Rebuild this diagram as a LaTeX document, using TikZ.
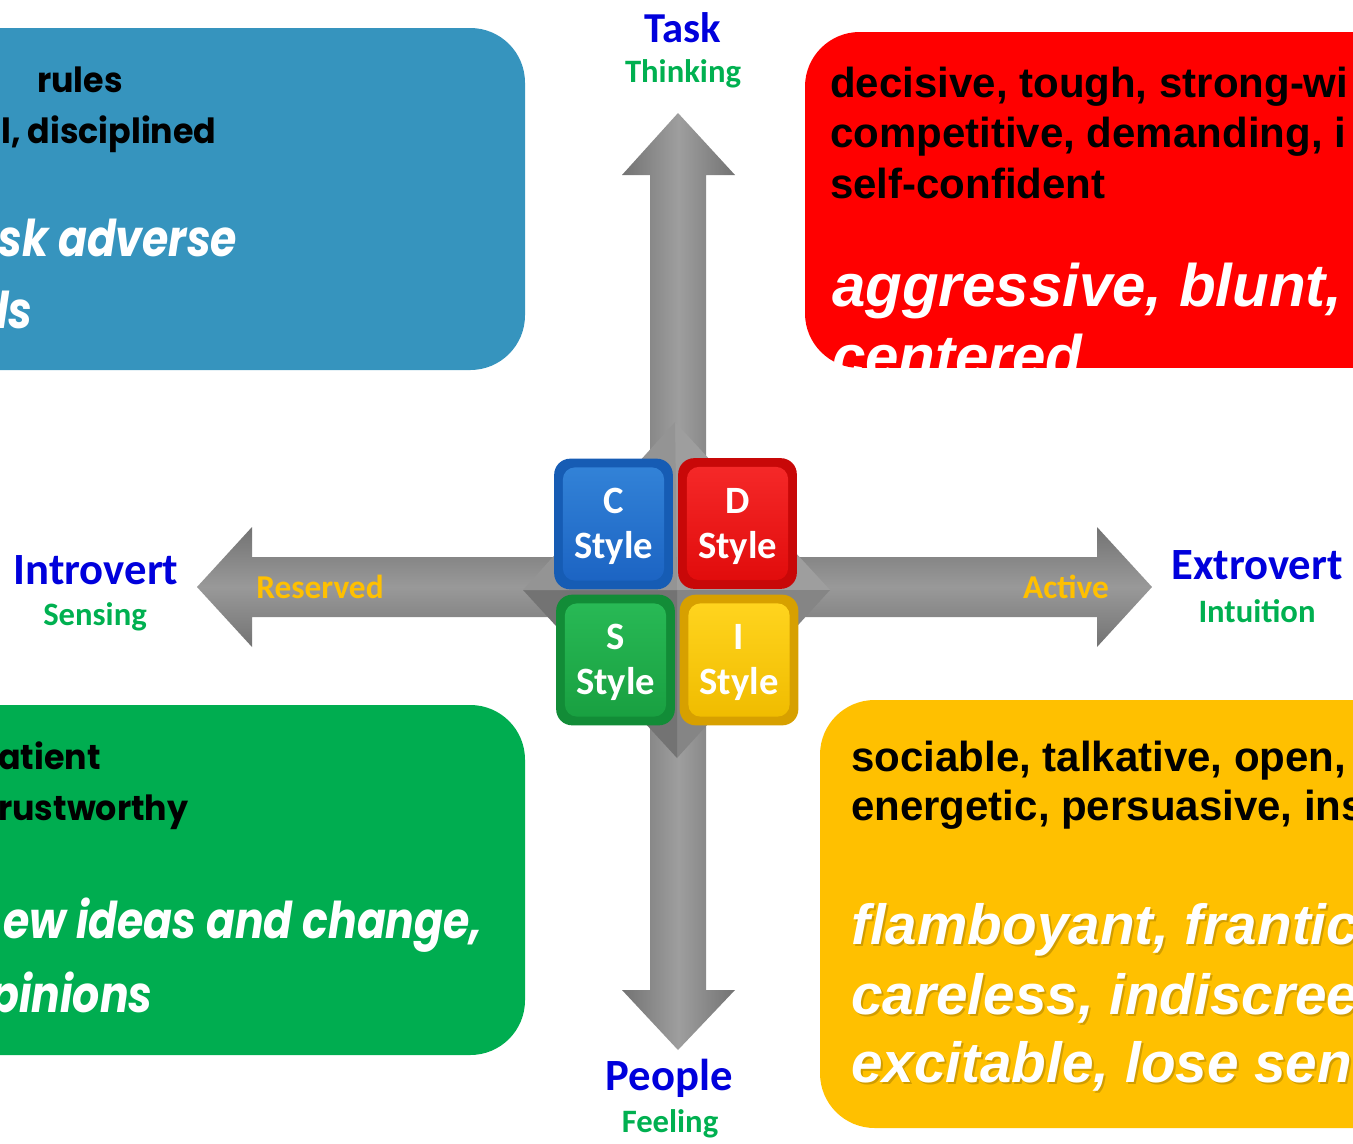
\documentclass[tikz,border=0pt]{standalone}
\usepackage{fontspec}
\setmainfont{Carlito}
\newfontfamily\arialf{Liberation Sans}
\newfontfamily\futf{Poppins}[FakeStretch=0.96]
\newfontfamily\futw{Poppins}[FakeStretch=0.84]
\definecolor{bluebox}{RGB}{54,148,190}
\definecolor{redbox}{RGB}{255,0,0}
\definecolor{greenbox}{RGB}{0,173,80}
\definecolor{yellowbox}{RGB}{255,192,0}
\definecolor{ttlblue}{RGB}{0,0,220}
\definecolor{subgreen}{RGB}{0,176,80}
\definecolor{amber}{RGB}{255,192,0}
\definecolor{cOut}{RGB}{22,92,180}\definecolor{cTop}{RGB}{50,130,215}\definecolor{cBot}{RGB}{28,100,195}
\definecolor{dOut}{RGB}{200,8,8}\definecolor{dTop}{RGB}{245,40,40}\definecolor{dBot}{RGB}{225,12,12}
\definecolor{sOut}{RGB}{18,140,55}\definecolor{sTop}{RGB}{40,185,85}\definecolor{sBot}{RGB}{25,160,65}
\definecolor{iOut}{RGB}{215,160,0}\definecolor{iTop}{RGB}{255,212,30}\definecolor{iBot}{RGB}{240,188,0}
\tikzset{
  qbox/.style={rounded corners=41pt},
  ablk/.style={anchor=base west,inner sep=0pt,text=black,font=\arialf\bfseries\fontsize{31.5}{36}\selectfont},
  awht/.style={anchor=base west,inner sep=0pt,text=white,font=\arialf\bfseries\itshape\fontsize{45}{52}\selectfont},
  ywht/.style={anchor=base west,inner sep=0pt,text=white,font=\arialf\bfseries\itshape\fontsize{42.5}{50}\selectfont},
  yshd/.style={anchor=base west,inner sep=0pt,text=black,opacity=.18,font=\arialf\bfseries\itshape\fontsize{42.5}{50}\selectfont},
  fblk/.style={anchor=base west,inner sep=0pt,text=black,font=\futf\bfseries\fontsize{26}{30}\selectfont},
  fwht/.style={anchor=base west,inner sep=0pt,text=white,font=\futw\bfseries\itshape\fontsize{38}{44}\selectfont},
  mainlbl/.style={inner sep=0pt,text=ttlblue,font=\bfseries\fontsize{33.5}{36}\selectfont},
  sublbl/.style={inner sep=0pt,text=subgreen,font=\bfseries\fontsize{24.5}{28}\selectfont},
  axlbl/.style={inner sep=0pt,text=amber,font=\bfseries\fontsize{25}{28}\selectfont},
  btnout/.style={minimum width=89pt,minimum height=98pt,rounded corners=12pt,inner sep=0pt},
  btntxt/.style={inner sep=0pt,align=center,text=white,font=\bfseries\fontsize{29}{34}\selectfont},
}
\begin{document}
\begin{tikzpicture}[x=0.75pt,y=-0.75pt]
\useasboundingbox (0,0) rectangle (1353,1143);
\clip (0,0) rectangle (1353,1143);

% quadrant boxes
\fill[bluebox,qbox] (-80,28) rectangle (525,370);
\fill[greenbox,qbox] (-80,705) rectangle (525,1055);
\fill[yellowbox,qbox] (820,700) rectangle (1420,1128);
\begin{scope}
  \clip[qbox] (805,32) rectangle (1420,368);
  \fill[redbox] (805,32) rectangle (1420,368);
  \node[ablk] (r1) at (830,97) {decisive, tough, strong-wi};
  \node[ablk] (r2) at (830,147) {competitive, demanding, i};
  \node[ablk] (r3) at (830,198) {self-confident};
  \node[awht] (r4) at (832,306) {aggressive, blunt,};
  \node[awht] (r5) at (832,377) {centered};
\end{scope}

% blue text
\node[fblk] (b1) at (37,92) {rules};
\node[fblk] (b2) at (1,143) {l, disciplined};
\node[fwht] (b3) at (-2,256) {sk adverse};
\node[fwht] (b4) at (-4,328) {ls};
% green text
\node[fblk] (g1) at (-2,769) {atient};
\node[fblk] (g2) at (-2,820) {rustworthy};
\node[fwht] (g3) at (3,938) {ew ideas and change,};
\node[fwht] (g4) at (-10,1012) {pinions};
% yellow text
\node[ablk] (y1) at (851,771) {sociable, talkative, open,};
\node[ablk] (y2) at (851,820) {energetic, persuasive, ins};
\node[yshd] (y3s) at (853,946) {flamboyant, frantic};
\node[yshd] (y4s) at (853,1016) {careless, indiscree};
\node[yshd] (y5s) at (853,1084) {excitable, lose sen};
\node[ywht] (y3) at (851,944) {flamboyant, frantic};
\node[ywht] (y4) at (851,1014) {careless, indiscree};
\node[ywht] (y5) at (851,1082) {excitable, lose sen};

% arrows
\coordinate (vt) at (678,113);
\coordinate (vb) at (678,1050);
\coordinate (hl) at (197,587);
\coordinate (hr) at (1152,587);
\shade[left color=black!55,right color=black!55,middle color=black!38]
  (650,175) -- (622,175) -- (vt) -- (735,175) -- (706,175) -- (706,990) -- (735,990) -- (vb) -- (622,990) -- (650,990) -- cycle;
\shade[top color=black!55,bottom color=black!55,middle color=black!40]
  (252,557) -- (252,527) -- (hl) -- (252,647) -- (252,617) -- (1097,617) -- (1097,647) -- (hr) -- (1097,527) -- (1097,557) -- cycle;

% central pyramid
\coordinate (pc) at (677,590);
\coordinate (pt) at (675,422);
\coordinate (pr) at (830,590);
\coordinate (pb) at (677,758);
\coordinate (pl) at (523,590);
\fill[black!38] (pt) -- (pr) -- (pc) -- cycle;
\fill[black!48] (pr) -- (pb) -- (pc) -- cycle;
\fill[black!55] (pb) -- (pl) -- (pc) -- cycle;
\fill[black!42] (pl) -- (pt) -- (pc) -- cycle;

% buttons
\node[btnout,fill=cOut] (cb) at (613.5,524) {};
\node[btnout,fill=dOut] (db) at (737.5,523.5) {};
\node[btnout,fill=sOut] (sb) at (615.5,660) {};
\node[btnout,fill=iOut] (ib) at (739,660) {};
\shade[top color=cTop,bottom color=cBot,rounded corners=9pt] ([shift={(9,9)}]cb.north west) rectangle ([shift={(-9,-9)}]cb.south east);
\shade[top color=dTop,bottom color=dBot,rounded corners=9pt] ([shift={(9,9)}]db.north west) rectangle ([shift={(-9,-9)}]db.south east);
\shade[top color=sTop,bottom color=sBot,rounded corners=9pt] ([shift={(9,9)}]sb.north west) rectangle ([shift={(-9,-9)}]sb.south east);
\shade[top color=iTop,bottom color=iBot,rounded corners=9pt] ([shift={(9,9)}]ib.north west) rectangle ([shift={(-9,-9)}]ib.south east);
\node[btntxt] (ct) at ([yshift=-2]cb.center) {C\\Style};
\node[btntxt] (dt) at ([yshift=-2]db.center) {D\\Style};
\node[btntxt] (st) at ([yshift=-2]sb.center) {S\\Style};
\node[btntxt] (it) at ([yshift=-2]ib.center) {I\\Style};

% axis labels
\node[mainlbl,font=\bfseries\fontsize{32}{36}\selectfont] (task) at (683,28) {Task};
\node[sublbl] (think) at (683,74) {Thinking};
\node[mainlbl] (intro) at (96,570) {Introvert};
\node[sublbl] (sens) at (95,617) {Sensing};
\node[mainlbl] (extro) at (1257,565) {Extrovert};
\node[sublbl] (intu) at (1257,611) {Intuition};
\node[mainlbl] (people) at (669,1078) {People};
\node[sublbl] (feel) at (670,1124) {Feeling};
\node[axlbl] (resv) at (320,587) {Reserved};
\node[axlbl] (actv) at (1066,587) {Active};
\end{tikzpicture}
\end{document}
